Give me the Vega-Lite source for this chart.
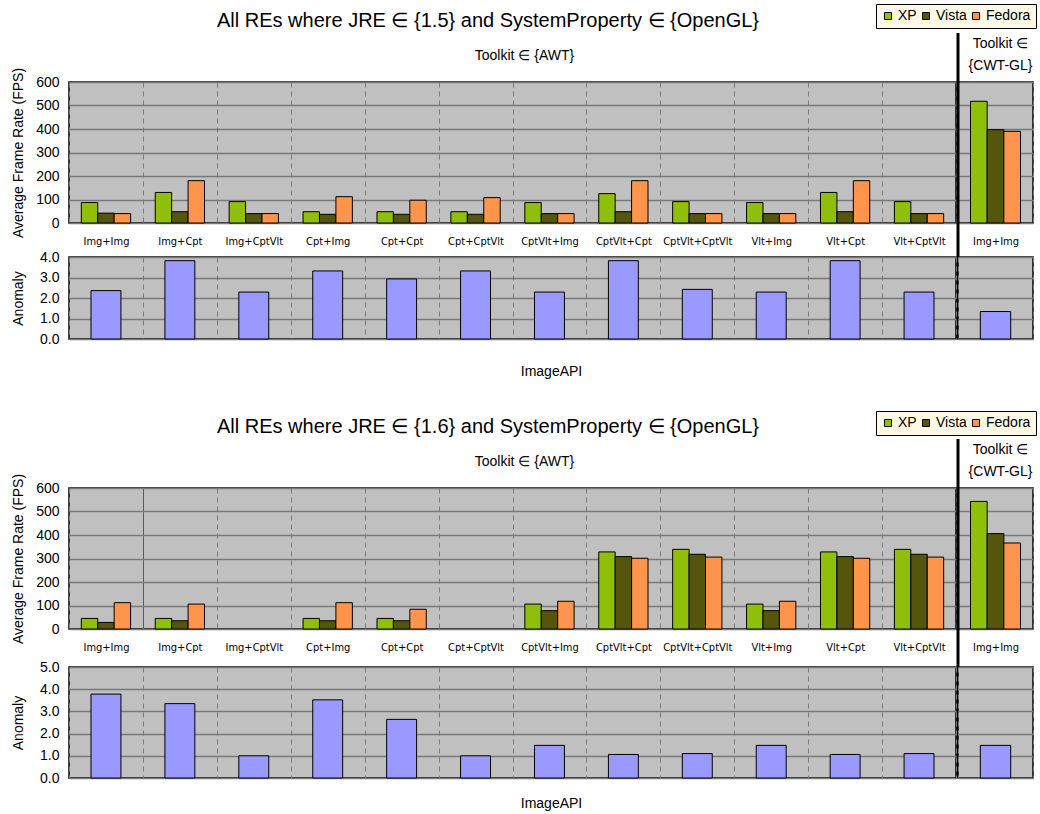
{
  "$schema": "https://vega.github.io/schema/vega-lite/v6.json",
  "autosize": {"type": "pad"},
  "padding": {"left": 10, "top": 2, "right": 0, "bottom": 0},
  "background": "white",
  "datasets": {
    "fps": [
      {"JRE": "1.5", "Toolkit": "AWT", "ImageAPI": "Img+Img", "OS": "XP", "FPS": 87},
      {"JRE": "1.5", "Toolkit": "AWT", "ImageAPI": "Img+Img", "OS": "Vista", "FPS": 42},
      {"JRE": "1.5", "Toolkit": "AWT", "ImageAPI": "Img+Img", "OS": "Fedora", "FPS": 40},
      {"JRE": "1.5", "Toolkit": "AWT", "ImageAPI": "Img+Cpt", "OS": "XP", "FPS": 130},
      {"JRE": "1.5", "Toolkit": "AWT", "ImageAPI": "Img+Cpt", "OS": "Vista", "FPS": 48},
      {"JRE": "1.5", "Toolkit": "AWT", "ImageAPI": "Img+Cpt", "OS": "Fedora", "FPS": 180},
      {"JRE": "1.5", "Toolkit": "AWT", "ImageAPI": "Img+CptVlt", "OS": "XP", "FPS": 91},
      {"JRE": "1.5", "Toolkit": "AWT", "ImageAPI": "Img+CptVlt", "OS": "Vista", "FPS": 40},
      {"JRE": "1.5", "Toolkit": "AWT", "ImageAPI": "Img+CptVlt", "OS": "Fedora", "FPS": 40},
      {"JRE": "1.5", "Toolkit": "AWT", "ImageAPI": "Cpt+Img", "OS": "XP", "FPS": 48},
      {"JRE": "1.5", "Toolkit": "AWT", "ImageAPI": "Cpt+Img", "OS": "Vista", "FPS": 37},
      {"JRE": "1.5", "Toolkit": "AWT", "ImageAPI": "Cpt+Img", "OS": "Fedora", "FPS": 112},
      {"JRE": "1.5", "Toolkit": "AWT", "ImageAPI": "Cpt+Cpt", "OS": "XP", "FPS": 48},
      {"JRE": "1.5", "Toolkit": "AWT", "ImageAPI": "Cpt+Cpt", "OS": "Vista", "FPS": 37},
      {"JRE": "1.5", "Toolkit": "AWT", "ImageAPI": "Cpt+Cpt", "OS": "Fedora", "FPS": 97},
      {"JRE": "1.5", "Toolkit": "AWT", "ImageAPI": "Cpt+CptVlt", "OS": "XP", "FPS": 48},
      {"JRE": "1.5", "Toolkit": "AWT", "ImageAPI": "Cpt+CptVlt", "OS": "Vista", "FPS": 37},
      {"JRE": "1.5", "Toolkit": "AWT", "ImageAPI": "Cpt+CptVlt", "OS": "Fedora", "FPS": 108},
      {"JRE": "1.5", "Toolkit": "AWT", "ImageAPI": "CptVlt+Img", "OS": "XP", "FPS": 87},
      {"JRE": "1.5", "Toolkit": "AWT", "ImageAPI": "CptVlt+Img", "OS": "Vista", "FPS": 40},
      {"JRE": "1.5", "Toolkit": "AWT", "ImageAPI": "CptVlt+Img", "OS": "Fedora", "FPS": 40},
      {"JRE": "1.5", "Toolkit": "AWT", "ImageAPI": "CptVlt+Cpt", "OS": "XP", "FPS": 125},
      {"JRE": "1.5", "Toolkit": "AWT", "ImageAPI": "CptVlt+Cpt", "OS": "Vista", "FPS": 48},
      {"JRE": "1.5", "Toolkit": "AWT", "ImageAPI": "CptVlt+Cpt", "OS": "Fedora", "FPS": 180},
      {"JRE": "1.5", "Toolkit": "AWT", "ImageAPI": "CptVlt+CptVlt", "OS": "XP", "FPS": 91},
      {"JRE": "1.5", "Toolkit": "AWT", "ImageAPI": "CptVlt+CptVlt", "OS": "Vista", "FPS": 40},
      {"JRE": "1.5", "Toolkit": "AWT", "ImageAPI": "CptVlt+CptVlt", "OS": "Fedora", "FPS": 40},
      {"JRE": "1.5", "Toolkit": "AWT", "ImageAPI": "Vlt+Img", "OS": "XP", "FPS": 87},
      {"JRE": "1.5", "Toolkit": "AWT", "ImageAPI": "Vlt+Img", "OS": "Vista", "FPS": 40},
      {"JRE": "1.5", "Toolkit": "AWT", "ImageAPI": "Vlt+Img", "OS": "Fedora", "FPS": 40},
      {"JRE": "1.5", "Toolkit": "AWT", "ImageAPI": "Vlt+Cpt", "OS": "XP", "FPS": 130},
      {"JRE": "1.5", "Toolkit": "AWT", "ImageAPI": "Vlt+Cpt", "OS": "Vista", "FPS": 48},
      {"JRE": "1.5", "Toolkit": "AWT", "ImageAPI": "Vlt+Cpt", "OS": "Fedora", "FPS": 180},
      {"JRE": "1.5", "Toolkit": "AWT", "ImageAPI": "Vlt+CptVlt", "OS": "XP", "FPS": 91},
      {"JRE": "1.5", "Toolkit": "AWT", "ImageAPI": "Vlt+CptVlt", "OS": "Vista", "FPS": 40},
      {"JRE": "1.5", "Toolkit": "AWT", "ImageAPI": "Vlt+CptVlt", "OS": "Fedora", "FPS": 40},
      {"JRE": "1.5", "Toolkit": "CWT-GL", "ImageAPI": "Img+Img", "OS": "XP", "FPS": 518},
      {"JRE": "1.5", "Toolkit": "CWT-GL", "ImageAPI": "Img+Img", "OS": "Vista", "FPS": 397},
      {"JRE": "1.5", "Toolkit": "CWT-GL", "ImageAPI": "Img+Img", "OS": "Fedora", "FPS": 390},
      {"JRE": "1.6", "Toolkit": "AWT", "ImageAPI": "Img+Img", "OS": "XP", "FPS": 45},
      {"JRE": "1.6", "Toolkit": "AWT", "ImageAPI": "Img+Img", "OS": "Vista", "FPS": 28},
      {"JRE": "1.6", "Toolkit": "AWT", "ImageAPI": "Img+Img", "OS": "Fedora", "FPS": 112},
      {"JRE": "1.6", "Toolkit": "AWT", "ImageAPI": "Img+Cpt", "OS": "XP", "FPS": 45},
      {"JRE": "1.6", "Toolkit": "AWT", "ImageAPI": "Img+Cpt", "OS": "Vista", "FPS": 35},
      {"JRE": "1.6", "Toolkit": "AWT", "ImageAPI": "Img+Cpt", "OS": "Fedora", "FPS": 106},
      {"JRE": "1.6", "Toolkit": "AWT", "ImageAPI": "Cpt+Img", "OS": "XP", "FPS": 45},
      {"JRE": "1.6", "Toolkit": "AWT", "ImageAPI": "Cpt+Img", "OS": "Vista", "FPS": 35},
      {"JRE": "1.6", "Toolkit": "AWT", "ImageAPI": "Cpt+Img", "OS": "Fedora", "FPS": 112},
      {"JRE": "1.6", "Toolkit": "AWT", "ImageAPI": "Cpt+Cpt", "OS": "XP", "FPS": 45},
      {"JRE": "1.6", "Toolkit": "AWT", "ImageAPI": "Cpt+Cpt", "OS": "Vista", "FPS": 35},
      {"JRE": "1.6", "Toolkit": "AWT", "ImageAPI": "Cpt+Cpt", "OS": "Fedora", "FPS": 84},
      {"JRE": "1.6", "Toolkit": "AWT", "ImageAPI": "CptVlt+Img", "OS": "XP", "FPS": 106},
      {"JRE": "1.6", "Toolkit": "AWT", "ImageAPI": "CptVlt+Img", "OS": "Vista", "FPS": 78},
      {"JRE": "1.6", "Toolkit": "AWT", "ImageAPI": "CptVlt+Img", "OS": "Fedora", "FPS": 118},
      {"JRE": "1.6", "Toolkit": "AWT", "ImageAPI": "CptVlt+Cpt", "OS": "XP", "FPS": 328},
      {"JRE": "1.6", "Toolkit": "AWT", "ImageAPI": "CptVlt+Cpt", "OS": "Vista", "FPS": 308},
      {"JRE": "1.6", "Toolkit": "AWT", "ImageAPI": "CptVlt+Cpt", "OS": "Fedora", "FPS": 301},
      {"JRE": "1.6", "Toolkit": "AWT", "ImageAPI": "CptVlt+CptVlt", "OS": "XP", "FPS": 339},
      {"JRE": "1.6", "Toolkit": "AWT", "ImageAPI": "CptVlt+CptVlt", "OS": "Vista", "FPS": 318},
      {"JRE": "1.6", "Toolkit": "AWT", "ImageAPI": "CptVlt+CptVlt", "OS": "Fedora", "FPS": 306},
      {"JRE": "1.6", "Toolkit": "AWT", "ImageAPI": "Vlt+Img", "OS": "XP", "FPS": 106},
      {"JRE": "1.6", "Toolkit": "AWT", "ImageAPI": "Vlt+Img", "OS": "Vista", "FPS": 78},
      {"JRE": "1.6", "Toolkit": "AWT", "ImageAPI": "Vlt+Img", "OS": "Fedora", "FPS": 118},
      {"JRE": "1.6", "Toolkit": "AWT", "ImageAPI": "Vlt+Cpt", "OS": "XP", "FPS": 328},
      {"JRE": "1.6", "Toolkit": "AWT", "ImageAPI": "Vlt+Cpt", "OS": "Vista", "FPS": 308},
      {"JRE": "1.6", "Toolkit": "AWT", "ImageAPI": "Vlt+Cpt", "OS": "Fedora", "FPS": 301},
      {"JRE": "1.6", "Toolkit": "AWT", "ImageAPI": "Vlt+CptVlt", "OS": "XP", "FPS": 339},
      {"JRE": "1.6", "Toolkit": "AWT", "ImageAPI": "Vlt+CptVlt", "OS": "Vista", "FPS": 318},
      {"JRE": "1.6", "Toolkit": "AWT", "ImageAPI": "Vlt+CptVlt", "OS": "Fedora", "FPS": 306},
      {"JRE": "1.6", "Toolkit": "CWT-GL", "ImageAPI": "Img+Img", "OS": "XP", "FPS": 543},
      {"JRE": "1.6", "Toolkit": "CWT-GL", "ImageAPI": "Img+Img", "OS": "Vista", "FPS": 406},
      {"JRE": "1.6", "Toolkit": "CWT-GL", "ImageAPI": "Img+Img", "OS": "Fedora", "FPS": 366}
    ],
    "anomaly": [
      {"JRE": "1.5", "Toolkit": "AWT", "ImageAPI": "Img+Img", "Anomaly": 2.36},
      {"JRE": "1.5", "Toolkit": "AWT", "ImageAPI": "Img+Cpt", "Anomaly": 3.82},
      {"JRE": "1.5", "Toolkit": "AWT", "ImageAPI": "Img+CptVlt", "Anomaly": 2.29},
      {"JRE": "1.5", "Toolkit": "AWT", "ImageAPI": "Cpt+Img", "Anomaly": 3.32},
      {"JRE": "1.5", "Toolkit": "AWT", "ImageAPI": "Cpt+Cpt", "Anomaly": 2.93},
      {"JRE": "1.5", "Toolkit": "AWT", "ImageAPI": "Cpt+CptVlt", "Anomaly": 3.32},
      {"JRE": "1.5", "Toolkit": "AWT", "ImageAPI": "CptVlt+Img", "Anomaly": 2.29},
      {"JRE": "1.5", "Toolkit": "AWT", "ImageAPI": "CptVlt+Cpt", "Anomaly": 3.82},
      {"JRE": "1.5", "Toolkit": "AWT", "ImageAPI": "CptVlt+CptVlt", "Anomaly": 2.42},
      {"JRE": "1.5", "Toolkit": "AWT", "ImageAPI": "Vlt+Img", "Anomaly": 2.29},
      {"JRE": "1.5", "Toolkit": "AWT", "ImageAPI": "Vlt+Cpt", "Anomaly": 3.82},
      {"JRE": "1.5", "Toolkit": "AWT", "ImageAPI": "Vlt+CptVlt", "Anomaly": 2.29},
      {"JRE": "1.5", "Toolkit": "CWT-GL", "ImageAPI": "Img+Img", "Anomaly": 1.34},
      {"JRE": "1.6", "Toolkit": "AWT", "ImageAPI": "Img+Img", "Anomaly": 3.78},
      {"JRE": "1.6", "Toolkit": "AWT", "ImageAPI": "Img+Cpt", "Anomaly": 3.35},
      {"JRE": "1.6", "Toolkit": "AWT", "ImageAPI": "Img+CptVlt", "Anomaly": 1.0},
      {"JRE": "1.6", "Toolkit": "AWT", "ImageAPI": "Cpt+Img", "Anomaly": 3.52},
      {"JRE": "1.6", "Toolkit": "AWT", "ImageAPI": "Cpt+Cpt", "Anomaly": 2.64},
      {"JRE": "1.6", "Toolkit": "AWT", "ImageAPI": "Cpt+CptVlt", "Anomaly": 1.0},
      {"JRE": "1.6", "Toolkit": "AWT", "ImageAPI": "CptVlt+Img", "Anomaly": 1.47},
      {"JRE": "1.6", "Toolkit": "AWT", "ImageAPI": "CptVlt+Cpt", "Anomaly": 1.06},
      {"JRE": "1.6", "Toolkit": "AWT", "ImageAPI": "CptVlt+CptVlt", "Anomaly": 1.1},
      {"JRE": "1.6", "Toolkit": "AWT", "ImageAPI": "Vlt+Img", "Anomaly": 1.47},
      {"JRE": "1.6", "Toolkit": "AWT", "ImageAPI": "Vlt+Cpt", "Anomaly": 1.06},
      {"JRE": "1.6", "Toolkit": "AWT", "ImageAPI": "Vlt+CptVlt", "Anomaly": 1.1},
      {"JRE": "1.6", "Toolkit": "CWT-GL", "ImageAPI": "Img+Img", "Anomaly": 1.47}
    ],
    "boundary": [
      {"JRE": "1.5", "ImageAPI": "Img+Img", "top": 808, "bottom": -494},
      {"JRE": "1.6", "ImageAPI": "Img+Img", "top": 808, "bottom": -634}
    ]
  },
  "bounds": "flush",
  "columns": 2,
  "spacing": {"row": 2, "column": 2},
  "resolve": {"scale": {"xOffset": "independent"}, "legend": {"color": "independent"}},
  "concat": [
    {
      "width": 887,
      "height": 141,
      "title": {"text": "All REs where JRE ∈ {1.5} and SystemProperty ∈ {OpenGL}", "fontSize": 20, "fontWeight": "normal", "anchor": "middle", "frame": "group", "dx": -24.5, "offset": 1, "baseline": "alphabetic", "color": "black"},
      "data": {"name": "fps"},
      "transform": [{"filter": "datum.JRE === '1.5' && datum.Toolkit === 'AWT'"}],
      "mark": {"type": "bar"},
      "encoding": {
        "x": {"field": "ImageAPI", "type": "nominal",
          "scale": {"domain": ["Img+Img", "Img+Cpt", "Img+CptVlt", "Cpt+Img", "Cpt+Cpt", "Cpt+CptVlt", "CptVlt+Img", "CptVlt+Cpt", "CptVlt+CptVlt", "Vlt+Img", "Vlt+Cpt", "Vlt+CptVlt"], "paddingInner": 0, "paddingOuter": 0},
          "axis": {"title": "Toolkit ∈ {AWT}", "titleX": 455, "titleY": -168, "titleAlign": "center", "titleBaseline": "middle", "grid": true}},
        "xOffset": {"field": "OS", "type": "nominal", "scale": {"domain": ["XP", "Vista", "Fedora"], "paddingInner": 0, "paddingOuter": 0.75}},
        "y": {"field": "FPS", "type": "quantitative", "scale": {"domain": [0, 600], "nice": false},
          "axis": {"values": [0, 100, 200, 300, 400, 500, 600], "title": "Average Frame Rate (FPS)", "titleX": -51, "titleY": 70.5, "titleAlign": "center", "titleBaseline": "middle", "titleAngle": 270, "labelPadding": 10, "grid": true}},
        "color": {"field": "OS", "type": "nominal", "scale": {"domain": ["XP", "Vista", "Fedora"], "range": ["#8fbf0a", "#55550d", "#ff944d"]}, "legend": null}
      }
    },
    {
      "width": 75,
      "height": 141,
      "layer": [
        {
          "data": {"name": "fps"},
          "transform": [{"filter": "datum.JRE === '1.5' && datum.Toolkit === 'CWT-GL'"}],
          "mark": {"type": "bar"},
          "encoding": {
            "x": {"field": "ImageAPI", "type": "nominal", "scale": {"domain": ["Img+Img"], "paddingInner": 0, "paddingOuter": 0},
              "axis": {"title": ["Toolkit ∈", "{CWT-GL}"], "titleX": 42, "titleY": -180, "titleAlign": "center", "titleBaseline": "middle", "titleLineHeight": 22, "grid": true}},
            "xOffset": {"field": "OS", "type": "nominal", "scale": {"domain": ["XP", "Vista", "Fedora"], "paddingInner": 0, "paddingOuter": 0.75}},
            "y": {"field": "FPS", "type": "quantitative", "scale": {"domain": [0, 600], "nice": false},
              "axis": {"values": [0, 100, 200, 300, 400, 500, 600], "labels": false, "title": null, "grid": true}},
            "color": {"field": "OS", "type": "nominal", "scale": {"domain": ["XP", "Vista", "Fedora"], "range": ["#8fbf0a", "#55550d", "#ff944d"]},
              "legend": {"orient": "none", "legendX": -82, "legendY": -78}}
          }
        },
        {
          "data": {"name": "boundary"},
          "transform": [{"filter": "datum.JRE === '1.5'"}],
          "mark": {"type": "rule", "strokeWidth": 3, "color": "black", "clip": false},
          "encoding": {
            "x": {"field": "ImageAPI", "type": "nominal", "bandPosition": 0, "scale": {"domain": ["Img+Img"], "paddingInner": 0, "paddingOuter": 0},
              "axis": {"title": ["Toolkit ∈", "{CWT-GL}"], "titleX": 42, "titleY": -180, "titleAlign": "center", "titleBaseline": "middle", "titleLineHeight": 22, "grid": true}},
            "y": {"field": "top", "type": "quantitative", "scale": {"domain": [0, 600], "nice": false},
              "axis": {"values": [0, 100, 200, 300, 400, 500, 600], "labels": false, "title": null, "grid": true}},
            "y2": {"field": "bottom"}
          }
        }
      ]
    },
    {"width": 887, "height": 30, "view": {"fill": null, "stroke": null}, "data": {"values": []}, "mark": "point"},
    {"width": 75, "height": 30, "view": {"fill": null, "stroke": null}, "data": {"values": []}, "mark": "point"},
    {
      "width": 887,
      "height": 82,
      "data": {"name": "anomaly"},
      "transform": [{"filter": "datum.JRE === '1.5' && datum.Toolkit === 'AWT'"}],
      "mark": {"type": "bar", "width": {"band": 0.405}, "fill": "#9999ff"},
      "encoding": {
        "x": {"field": "ImageAPI", "type": "nominal",
          "scale": {"domain": ["Img+Img", "Img+Cpt", "Img+CptVlt", "Cpt+Img", "Cpt+Cpt", "Cpt+CptVlt", "CptVlt+Img", "CptVlt+Cpt", "CptVlt+CptVlt", "Vlt+Img", "Vlt+Cpt", "Vlt+CptVlt"], "paddingInner": 0, "paddingOuter": 0},
          "axis": {"labels": false, "title": "ImageAPI", "titleX": 482, "titleY": 32, "titleAlign": "center", "titleBaseline": "middle", "grid": true}},
        "y": {"field": "Anomaly", "type": "quantitative", "scale": {"domain": [0, 4], "nice": false},
          "axis": {"values": [0, 1, 2, 3, 4], "format": ".1f", "title": "Anomaly", "titleX": -51, "titleY": 41, "titleAlign": "center", "titleBaseline": "middle", "titleAngle": 270, "labelPadding": 10, "grid": true}}
      }
    },
    {
      "width": 75,
      "height": 82,
      "data": {"name": "anomaly"},
      "transform": [{"filter": "datum.JRE === '1.5' && datum.Toolkit === 'CWT-GL'"}],
      "mark": {"type": "bar", "width": {"band": 0.405}, "fill": "#9999ff"},
      "encoding": {
        "x": {"field": "ImageAPI", "type": "nominal", "scale": {"domain": ["Img+Img"], "paddingInner": 0, "paddingOuter": 0},
          "axis": {"labels": false, "title": null, "grid": true}},
        "y": {"field": "Anomaly", "type": "quantitative", "scale": {"domain": [0, 4], "nice": false},
          "axis": {"values": [0, 1, 2, 3, 4], "labels": false, "title": null, "grid": true}}
      }
    },
    {"width": 887, "height": 145, "view": {"fill": null, "stroke": null}, "data": {"values": []}, "mark": "point"},
    {"width": 75, "height": 145, "view": {"fill": null, "stroke": null}, "data": {"values": []}, "mark": "point"},
    {
      "width": 887,
      "height": 141,
      "title": {"text": "All REs where JRE ∈ {1.6} and SystemProperty ∈ {OpenGL}", "fontSize": 20, "fontWeight": "normal", "anchor": "middle", "frame": "group", "dx": -24.5, "offset": 1, "baseline": "alphabetic", "color": "black"},
      "data": {"name": "fps"},
      "transform": [{"filter": "datum.JRE === '1.6' && datum.Toolkit === 'AWT'"}],
      "mark": {"type": "bar"},
      "encoding": {
        "x": {"field": "ImageAPI", "type": "nominal",
          "scale": {"domain": ["Img+Img", "Img+Cpt", "Img+CptVlt", "Cpt+Img", "Cpt+Cpt", "Cpt+CptVlt", "CptVlt+Img", "CptVlt+Cpt", "CptVlt+CptVlt", "Vlt+Img", "Vlt+Cpt", "Vlt+CptVlt"], "paddingInner": 0, "paddingOuter": 0},
          "axis": {"title": "Toolkit ∈ {AWT}", "titleX": 455, "titleY": -168, "titleAlign": "center", "titleBaseline": "middle", "grid": true,
            "gridDash": {"condition": {"test": "datum.value === 'Img+Img'", "value": []}, "value": [5, 4]},
            "gridColor": {"condition": {"test": "datum.value === 'Img+Img'", "value": "#5a5a5a"}, "value": "#7a7a7a"}}},
        "xOffset": {"field": "OS", "type": "nominal", "scale": {"domain": ["XP", "Vista", "Fedora"], "paddingInner": 0, "paddingOuter": 0.75}},
        "y": {"field": "FPS", "type": "quantitative", "scale": {"domain": [0, 600], "nice": false},
          "axis": {"values": [0, 100, 200, 300, 400, 500, 600], "title": "Average Frame Rate (FPS)", "titleX": -51, "titleY": 70.5, "titleAlign": "center", "titleBaseline": "middle", "titleAngle": 270, "labelPadding": 10, "grid": true}},
        "color": {"field": "OS", "type": "nominal", "scale": {"domain": ["XP", "Vista", "Fedora"], "range": ["#8fbf0a", "#55550d", "#ff944d"]}, "legend": null}
      }
    },
    {
      "width": 75,
      "height": 141,
      "layer": [
        {
          "data": {"name": "fps"},
          "transform": [{"filter": "datum.JRE === '1.6' && datum.Toolkit === 'CWT-GL'"}],
          "mark": {"type": "bar"},
          "encoding": {
            "x": {"field": "ImageAPI", "type": "nominal", "scale": {"domain": ["Img+Img"], "paddingInner": 0, "paddingOuter": 0},
              "axis": {"title": ["Toolkit ∈", "{CWT-GL}"], "titleX": 42, "titleY": -180, "titleAlign": "center", "titleBaseline": "middle", "titleLineHeight": 22, "grid": true}},
            "xOffset": {"field": "OS", "type": "nominal", "scale": {"domain": ["XP", "Vista", "Fedora"], "paddingInner": 0, "paddingOuter": 0.75}},
            "y": {"field": "FPS", "type": "quantitative", "scale": {"domain": [0, 600], "nice": false},
              "axis": {"values": [0, 100, 200, 300, 400, 500, 600], "labels": false, "title": null, "grid": true}},
            "color": {"field": "OS", "type": "nominal", "scale": {"domain": ["XP", "Vista", "Fedora"], "range": ["#8fbf0a", "#55550d", "#ff944d"]},
              "legend": {"orient": "none", "legendX": -82, "legendY": -77}}
          }
        },
        {
          "data": {"name": "boundary"},
          "transform": [{"filter": "datum.JRE === '1.6'"}],
          "mark": {"type": "rule", "strokeWidth": 3, "color": "black", "clip": false},
          "encoding": {
            "x": {"field": "ImageAPI", "type": "nominal", "bandPosition": 0, "scale": {"domain": ["Img+Img"], "paddingInner": 0, "paddingOuter": 0},
              "axis": {"title": ["Toolkit ∈", "{CWT-GL}"], "titleX": 42, "titleY": -180, "titleAlign": "center", "titleBaseline": "middle", "titleLineHeight": 22, "grid": true}},
            "y": {"field": "top", "type": "quantitative", "scale": {"domain": [0, 600], "nice": false},
              "axis": {"values": [0, 100, 200, 300, 400, 500, 600], "labels": false, "title": null, "grid": true}},
            "y2": {"field": "bottom"}
          }
        }
      ]
    },
    {"width": 887, "height": 34, "view": {"fill": null, "stroke": null}, "data": {"values": []}, "mark": "point"},
    {"width": 75, "height": 34, "view": {"fill": null, "stroke": null}, "data": {"values": []}, "mark": "point"},
    {
      "width": 887,
      "height": 111,
      "data": {"name": "anomaly"},
      "transform": [{"filter": "datum.JRE === '1.6' && datum.Toolkit === 'AWT'"}],
      "mark": {"type": "bar", "width": {"band": 0.405}, "fill": "#9999ff"},
      "encoding": {
        "x": {"field": "ImageAPI", "type": "nominal",
          "scale": {"domain": ["Img+Img", "Img+Cpt", "Img+CptVlt", "Cpt+Img", "Cpt+Cpt", "Cpt+CptVlt", "CptVlt+Img", "CptVlt+Cpt", "CptVlt+CptVlt", "Vlt+Img", "Vlt+Cpt", "Vlt+CptVlt"], "paddingInner": 0, "paddingOuter": 0},
          "axis": {"labels": false, "title": "ImageAPI", "titleX": 482, "titleY": 25, "titleAlign": "center", "titleBaseline": "middle", "grid": true}},
        "y": {"field": "Anomaly", "type": "quantitative", "scale": {"domain": [0, 5], "nice": false},
          "axis": {"values": [0, 1, 2, 3, 4, 5], "format": ".1f", "title": "Anomaly", "titleX": -51, "titleY": 55.5, "titleAlign": "center", "titleBaseline": "middle", "titleAngle": 270, "labelPadding": 10, "grid": true}}
      }
    },
    {
      "width": 75,
      "height": 111,
      "data": {"name": "anomaly"},
      "transform": [{"filter": "datum.JRE === '1.6' && datum.Toolkit === 'CWT-GL'"}],
      "mark": {"type": "bar", "width": {"band": 0.405}, "fill": "#9999ff"},
      "encoding": {
        "x": {"field": "ImageAPI", "type": "nominal", "scale": {"domain": ["Img+Img"], "paddingInner": 0, "paddingOuter": 0},
          "axis": {"labels": false, "title": null, "grid": true}},
        "y": {"field": "Anomaly", "type": "quantitative", "scale": {"domain": [0, 5], "nice": false},
          "axis": {"values": [0, 1, 2, 3, 4, 5], "labels": false, "title": null, "grid": true}}
      }
    }
  ],
  "config": {
    "font": "Liberation Sans",
    "view": {"fill": "#c0c0c0", "stroke": "black", "strokeWidth": 1.5},
    "bar": {"stroke": "black", "strokeWidth": 1},
    "axis": {"labelFont": "Liberation Sans", "labelColor": "black", "labelFontSize": 14, "titleFont": "Liberation Sans", "titleFontSize": 14, "titleFontWeight": "normal", "titleColor": "black", "domain": false, "ticks": false},
    "axisX": {"gridDash": [5, 4], "gridColor": "#7a7a7a", "gridWidth": 1, "tickBand": "extent", "labelAngle": 0, "labelFont": "DejaVu Sans Condensed, Liberation Sans Narrow, Liberation Sans, sans-serif", "labelFontSize": 11, "labelPadding": 18, "labelBaseline": "middle"},
    "axisY": {"gridColor": "#787878", "gridWidth": 1.5},
    "legend": {"direction": "horizontal", "title": null, "fillColor": "#fdf9e4", "strokeColor": "black", "padding": 5, "symbolType": "square", "symbolSize": 49, "symbolStrokeColor": "black", "symbolStrokeWidth": 1, "symbolOpacity": 1, "labelFont": "Liberation Sans", "labelFontSize": 14, "labelColor": "black", "labelOffset": 3, "columnPadding": 2}
  }
}
